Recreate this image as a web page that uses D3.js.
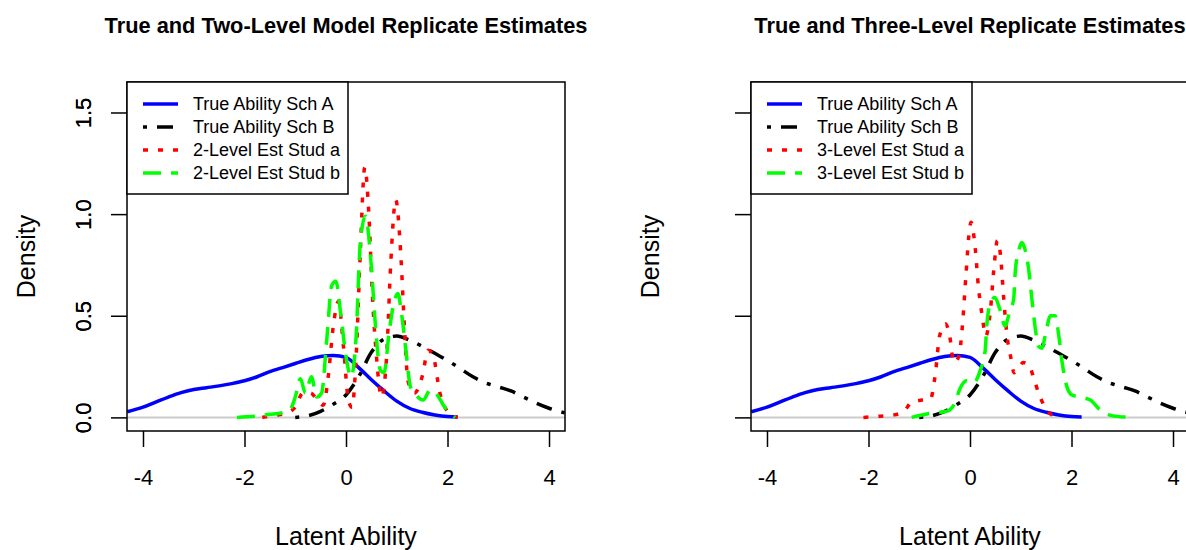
<!DOCTYPE html>
<html>
<head>
<meta charset="utf-8">
<script src="https://cdn.jsdelivr.net/npm/d3@7"></script>
<style>
  body { margin: 0; background: #fff; }
  svg { display: block; }
  text { font-family: "Liberation Sans", Arial, sans-serif; fill: #000; }
</style>
</head>
<body>
<div id="chart"></div>
<script>
// ---- data ----
var xTicks = [-4, -2, 0, 2, 4];
var xTickLabels = ["-4", "-2", "0", "2", "4"];
var yTicks = [0, 0.5, 1, 1.5];
var yTickLabels = ["0.0", "0.5", "1.0", "1.5"];

// true ability, same in both panels
var trueAX = [-4.31, -4.0, -3.75, -3.5, -3.25, -3.0, -2.75, -2.5, -2.25, -2.0, -1.75, -1.5, -1.25, -1.0, -0.75, -0.5, -0.25, 0.0, 0.25, 0.5, 0.75, 1.0, 1.25, 1.5, 1.75, 2.0, 2.2];
var trueAY = [0.028, 0.05, 0.075, 0.10, 0.122, 0.137, 0.146, 0.155, 0.166, 0.18, 0.20, 0.225, 0.245, 0.265, 0.285, 0.30, 0.305, 0.295, 0.245, 0.185, 0.13, 0.08, 0.045, 0.025, 0.012, 0.004, 0.002];

var trueBX = [-1.0, -0.75, -0.5, -0.25, 0.0, 0.25, 0.5, 0.75, 1.0, 1.25, 1.5, 1.75, 2.0, 2.25, 2.5, 2.75, 3.0, 3.25, 3.5, 3.75, 4.0, 4.31];
var trueBY = [0, 0.008, 0.03, 0.065, 0.11, 0.2, 0.32, 0.385, 0.40, 0.38, 0.35, 0.315, 0.28, 0.24, 0.20, 0.17, 0.15, 0.13, 0.10, 0.07, 0.045, 0.022];

// two-level estimates
var est2aX = [-1.65, -1.4, -1.2, -1.0, -0.85, -0.7, -0.55, -0.45, -0.35, -0.25, -0.15, -0.05, 0.05, 0.12, 0.2, 0.28, 0.37, 0.45, 0.52, 0.6, 0.7, 0.8, 0.88, 0.98, 1.08, 1.15, 1.22, 1.35, 1.5, 1.62, 1.72, 1.85, 2.0, 2.2];
var est2aY = [0, 0.01, 0.02, 0.05, 0.12, 0.12, 0.08, 0.06, 0.2, 0.45, 0.57, 0.35, 0.08, 0.05, 0.3, 0.8, 1.23, 1.0, 0.6, 0.3, 0.1, 0.3, 0.75, 1.07, 0.8, 0.45, 0.18, 0.12, 0.2, 0.33, 0.3, 0.12, 0.03, 0];

var est2bX = [-2.15, -1.8, -1.5, -1.3, -1.1, -1.0, -0.9, -0.8, -0.68, -0.58, -0.48, -0.38, -0.28, -0.2, -0.1, 0.0, 0.1, 0.2, 0.28, 0.38, 0.5, 0.58, 0.68, 0.75, 0.85, 0.95, 1.02, 1.1, 1.18, 1.27, 1.38, 1.52, 1.66, 1.8, 1.92, 2.05, 2.15];
var est2bY = [0, 0.005, 0.015, 0.02, 0.04, 0.1, 0.19, 0.12, 0.2, 0.1, 0.12, 0.38, 0.65, 0.67, 0.5, 0.3, 0.2, 0.4, 0.85, 0.99, 0.74, 0.45, 0.23, 0.22, 0.42, 0.57, 0.61, 0.5, 0.33, 0.15, 0.11, 0.085, 0.135, 0.11, 0.06, 0.02, 0];

// three-level estimates
var est3aX = [-2.1, -1.8, -1.5, -1.3, -1.15, -0.95, -0.78, -0.68, -0.6, -0.48, -0.4, -0.32, -0.22, -0.15, -0.08, -0.02, 0.02, 0.1, 0.17, 0.24, 0.31, 0.4, 0.47, 0.54, 0.6, 0.66, 0.73, 0.8, 0.87, 0.95, 1.05, 1.15, 1.25, 1.35, 1.48, 1.62, 1.75];
var est3aY = [0, 0.005, 0.012, 0.03, 0.075, 0.085, 0.09, 0.22, 0.4, 0.46, 0.4, 0.27, 0.3, 0.45, 0.7, 0.9, 0.96, 0.84, 0.63, 0.5, 0.4, 0.52, 0.73, 0.87, 0.8, 0.6, 0.4, 0.3, 0.22, 0.24, 0.27, 0.26, 0.2, 0.12, 0.05, 0.01, 0];

var est3bX = [-1.15, -0.79, -0.46, -0.3, -0.2, -0.07, 0.07, 0.2, 0.3, 0.33, 0.4, 0.49, 0.59, 0.69, 0.79, 0.86, 0.89, 0.96, 1.02, 1.08, 1.15, 1.22, 1.28, 1.35, 1.41, 1.52, 1.58, 1.68, 1.75, 1.81, 1.91, 2.01, 2.17, 2.37, 2.57, 2.77, 2.9, 3.23];
var est3bY = [0, 0.02, 0.03, 0.07, 0.14, 0.18, 0.17, 0.23, 0.33, 0.45, 0.56, 0.59, 0.53, 0.45, 0.53, 0.58, 0.71, 0.82, 0.86, 0.83, 0.74, 0.58, 0.45, 0.35, 0.34, 0.45, 0.50, 0.5, 0.40, 0.28, 0.15, 0.11, 0.10, 0.085, 0.035, 0.01, 0.005, 0];

var titles = ["True and Two-Level Model Replicate Estimates", "True and Three-Level Replicate Estimates"];
var legend2 = ["True Ability Sch A", "True Ability Sch B", "2-Level Est Stud a", "2-Level Est Stud b"];
var legend3 = ["True Ability Sch A", "True Ability Sch B", "3-Level Est Stud a", "3-Level Est Stud b"];

// ---- styles ----
var colors = ["#0000ff", "#000000", "#ff0000", "#00ff00"];
var dashes = [null, "4,10,16,10", "5,10", "18,10"];
var lineW = 3.5;

var W = 1186, H = 550;
var svg = d3.select("#chart").append("svg").attr("width", W).attr("height", H);

function zip(xs, ys) {
  return xs.map(function(x, i) { return [x, ys[i]]; });
}

function drawPanel(idx, left, series, legendLabels) {
  var plotW = 438, top = 82, bottom = 431;
  var x = d3.scaleLinear().domain([-4.315, 4.315]).range([left, left + plotW]);
  var y = d3.scaleLinear().domain([-0.067, 1.65]).range([bottom, top]);

  var g = svg.append("g");

  g.append("clipPath").attr("id", "clip" + idx)
    .append("rect").attr("x", left).attr("y", top).attr("width", plotW).attr("height", bottom - top);

  // title
  g.append("text").attr("x", left + plotW / 2).attr("y", 33)
    .attr("text-anchor", "middle").style("font-weight", "bold").style("font-size", "21.8px")
    .text(titles[idx]);

  // zero line
  g.append("line").attr("x1", left).attr("x2", left + plotW).attr("y1", y(0)).attr("y2", y(0))
    .attr("stroke", "#cccccc").attr("stroke-width", 2);

  // curves
  var line = d3.line().x(function(d) { return x(d[0]); }).y(function(d) { return y(d[1]); })
    .curve(d3.curveMonotoneX);
  var cg = g.append("g").attr("clip-path", "url(#clip" + idx + ")");
  series.forEach(function(s, i) {
    cg.append("path").datum(s).attr("d", line)
      .attr("fill", "none").attr("stroke", colors[i]).attr("stroke-width", lineW)
      .attr("stroke-dasharray", dashes[i]);
  });

  // box
  g.append("rect").attr("x", left).attr("y", top).attr("width", plotW).attr("height", bottom - top)
    .attr("fill", "none").attr("stroke", "#000").attr("stroke-width", 1.5);

  // x axis
  var xa = g.append("g").attr("transform", "translate(0," + bottom + ")")
    .call(d3.axisBottom(x).tickValues(xTicks).tickSize(16).tickPadding(22)
      .tickFormat(function(d, i) { return xTickLabels[i]; }));
  xa.select(".domain").remove();
  xa.selectAll("line").attr("stroke", "#000").attr("stroke-width", 1.5);
  xa.selectAll("text").style("font-size", "22px").style("font-family", "Liberation Sans, Arial, sans-serif").attr("fill", "#000");

  // y axis
  var ya = g.append("g").attr("transform", "translate(" + left + ",0)")
    .call(d3.axisLeft(y).tickValues(yTicks).tickSize(16).tickFormat(function(d, i) { return yTickLabels[i]; }));
  ya.select(".domain").remove();
  ya.selectAll("line").attr("stroke", "#000").attr("stroke-width", 1.5);
  ya.selectAll("text")
    .attr("x", 0).attr("dy", null)
    .attr("text-anchor", "middle").attr("dominant-baseline", "central")
    .attr("transform", "translate(" + (83 - left) + ",0) rotate(-90)")
    .style("font-size", "22px").style("font-family", "Liberation Sans, Arial, sans-serif").attr("fill", "#000");

  // axis titles
  g.append("text").attr("x", left + plotW / 2).attr("y", 536).attr("dominant-baseline", "central")
    .attr("text-anchor", "middle").style("font-size", "25px").text("Latent Ability");
  g.append("text").attr("transform", "translate(" + (left - 101) + "," + ((top + bottom) / 2) + ") rotate(-90)")
    .attr("text-anchor", "middle").attr("dominant-baseline", "central")
    .style("font-size", "25px").text("Density");

  // legend
  var lg = g.append("g");
  lg.append("rect").attr("x", left).attr("y", top).attr("width", 221).attr("height", 112)
    .attr("fill", "#fff").attr("stroke", "#000").attr("stroke-width", 1.5);
  legendLabels.forEach(function(lab, i) {
    var ly = 104 + i * 23;
    lg.append("line").attr("x1", left + 16).attr("x2", left + 51).attr("y1", ly).attr("y2", ly)
      .attr("stroke", colors[i]).attr("stroke-width", lineW).attr("stroke-dasharray", dashes[i]);
    lg.append("text").attr("x", left + 66).attr("y", ly).attr("dominant-baseline", "central")
      .style("font-size", "18px").text(lab);
  });
}

drawPanel(0, 127, [zip(trueAX, trueAY), zip(trueBX, trueBY), zip(est2aX, est2aY), zip(est2bX, est2bY)], legend2);
drawPanel(1, 751, [zip(trueAX, trueAY), zip(trueBX, trueBY), zip(est3aX, est3aY), zip(est3bX, est3bY)], legend3);
</script>
</body>
</html>
